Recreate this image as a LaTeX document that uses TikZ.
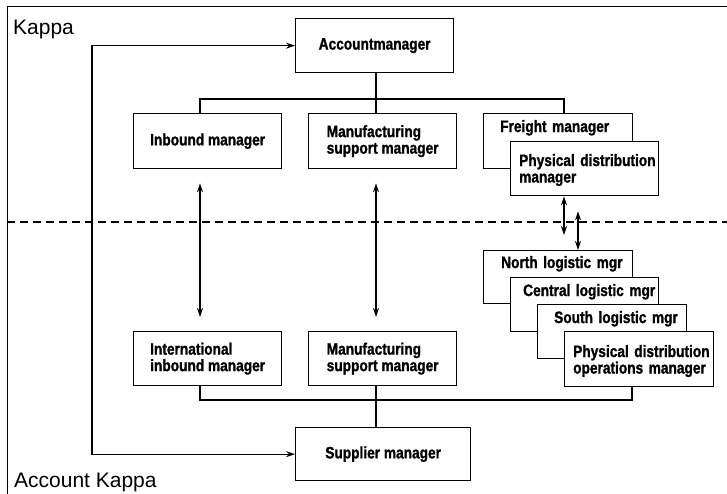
\documentclass[tikz,border=0pt]{standalone}
\usepackage{fontspec}
\setmainfont{Liberation Sans}
\newfontfamily\boxfont[FakeStretch=0.83, BoldFeatures={FakeBold=1.2}]{Liberation Sans}
\usetikzlibrary{arrows.meta}

\begin{document}
\begin{tikzpicture}[x=1pt,y=-1pt,
  orgbox/.style={draw, line width=1.3pt, fill=white, inner sep=0pt, anchor=north west,
    align=left, font=\boxfont\bfseries\fontsize{16.5}{16.5}\selectfont},
  boxlabel/.style={inner sep=0pt, anchor=base west, text width=150pt, align=left,
    font=\boxfont\bfseries\fontsize{16.5}{16.5}\selectfont},
  arealabel/.style={inner sep=0pt, anchor=base west, font=\fontsize{21}{21}\selectfont},
  conn/.style={line width=1.3pt},
  tip/.tip={Stealth[length=9pt,width=6pt]},
  twoway/.style={conn, tip-tip},
]
\useasboundingbox (0,0) rectangle (727,493);
\clip (0,0) rectangle (727,493);

% outer frame of the account area
\draw[line width=1pt] (7,6) rectangle (760,520);

% area labels
\node[arealabel] (kappa) at (13,34) {Kappa};
\node[arealabel] (acctkappa) at (14,487) {Account Kappa};

% boundary between the two organisations
\draw[dashed, dash pattern=on 8pt off 5pt, line width=1.3pt] (7,222) -- (727,222);

% upper organisation
\node[orgbox, minimum width=158pt, minimum height=54pt] (acct) at (295,18) {Accountmanager};
\node[orgbox, minimum width=148pt, minimum height=55pt] (inb) at (133,113) {Inbound manager};
\node[orgbox, minimum width=148pt, minimum height=55pt] (ms1) at (308,113) {Manufacturing\\support manager};
\node[orgbox, minimum width=149pt, minimum height=55pt] (frt) at (483,113) {};
\node[boxlabel] (frtT) at (500,132) {Freight manager};
\node[orgbox, minimum width=148pt, minimum height=54pt] (pd) at (510,141) {};
\node[boxlabel] (pdT) at (519,166) {Physical distribution\\manager};

% lower organisation
\node[orgbox, minimum width=148pt, minimum height=54pt] (intl) at (133,331) {International\\inbound manager};
\node[orgbox, minimum width=148pt, minimum height=54pt] (ms2) at (308,331) {Manufacturing\\support manager};
\node[orgbox, minimum width=175pt, minimum height=53pt] (supp) at (295,427) {Supplier manager};

\node[orgbox, minimum width=149pt, minimum height=53pt] (north) at (483,250) {};
\node[boxlabel] (northT) at (501,268) {North logistic mgr};
\node[orgbox, minimum width=148pt, minimum height=54pt] (central) at (510,277) {};
\node[boxlabel] (centralT) at (523,296) {Central logistic mgr};
\node[orgbox, minimum width=149pt, minimum height=54pt] (south) at (537,304) {};
\node[boxlabel] (southT) at (554,323) {South logistic mgr};
\node[orgbox, minimum width=149pt, minimum height=55pt] (pdo) at (564,331) {};
\node[boxlabel] (pdoT) at (573,357) {Physical distribution\\operations manager};

% reporting lines, upper side
\coordinate (colA) at (200,0);
\coordinate (colB) at (376,0);
\coordinate (colC) at (564,0);
\coordinate (topbus) at (0,99);
\draw[conn] (colB |- acct.south) -- (colB |- ms1.north);
\draw[conn] (colA |- inb.north) -- (colA |- topbus) -- (colC |- topbus) -- (colC |- frt.north);

% reporting lines, lower side
\coordinate (colD) at (632,0);
\coordinate (lowbus) at (0,400);
\draw[conn] (colA |- intl.south) -- (colA |- lowbus) -- (colD |- lowbus) -- (colD |- pdo.south);
\draw[conn] (colB |- ms2.south) -- (colB |- supp.north);

% counterpart links across the boundary
\draw[twoway, shorten <=14pt, shorten >=14pt] (colA |- inb.south) -- (colA |- intl.north);
\draw[twoway, shorten <=14pt, shorten >=14pt] (colB |- ms1.south) -- (colB |- ms2.north);
\coordinate (colE) at (578,0);
\draw[twoway, shorten >=15pt] (colC |- pd.south) -- (colC |- north.north);
\draw[twoway, shorten <=15pt] (colE |- pd.south) -- (colE |- north.north);

% account manager to supplier manager loop
\coordinate (loop) at (92,250);
\draw[conn, tip-tip] (acct.west) -| (loop) |- (supp.west);
\end{tikzpicture}
\end{document}
